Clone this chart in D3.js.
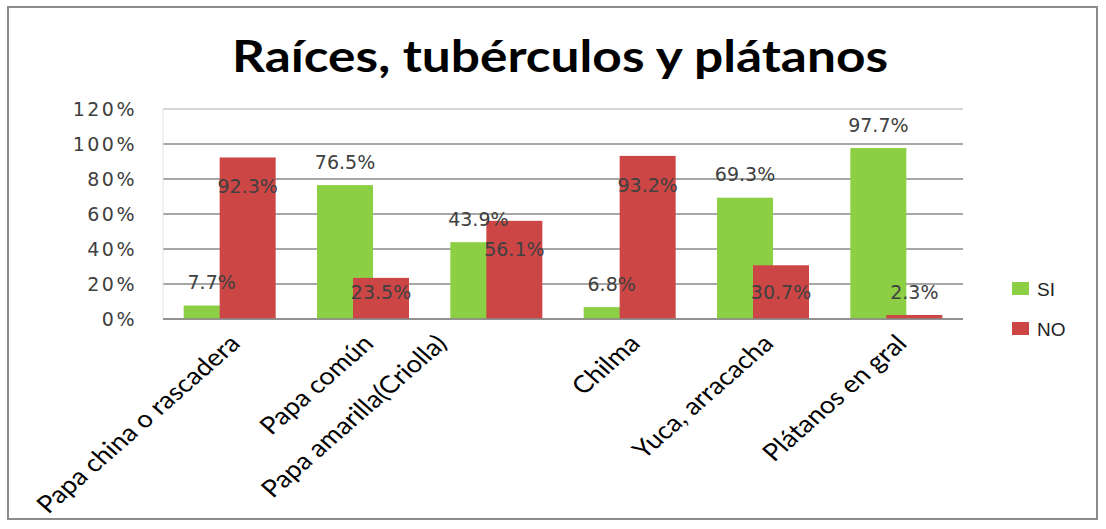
<!DOCTYPE html>
<html>
<head>
<meta charset="utf-8">
<script src="https://cdn.jsdelivr.net/npm/d3@7"></script>
<style>
  body { margin: 0; background: #fff; }
</style>
</head>
<body>
<div id="my_chart"></div>
<script>
// Data
var categories = ["Papa china o rascadera", "Papa común", "Papa amarilla(Criolla)", "Chilma", "Yuca, arracacha", "Plátanos en gral"];
var siValues = [7.7, 76.5, 43.9, 6.8, 69.3, 97.7];
var noValues = [92.3, 23.5, 56.1, 93.2, 30.7, 2.3];
var seriesNames = ["SI", "NO"];
var yTicks = [0, 20, 40, 60, 80, 100, 120];

var colors = { "SI": "#8ccf45", "NO": "#cc4646" };

var W = 1106, H = 529;
var margin = { top: 109, left: 163, right: W - 963, bottom: H - 319 };
var width = W - margin.left - margin.right,
    height = H - margin.top - margin.bottom;

// the picture is stretched sideways a bit, rotated labels follow that
var stretch = 1.14;

var svg = d3.select("#my_chart")
  .append("svg")
  .attr("width", W)
  .attr("height", H);

// outer frame
svg.append("rect")
  .attr("x", 8).attr("y", 7)
  .attr("width", 1089).attr("height", 512)
  .attr("fill", "#fff")
  .attr("stroke", "#8c8c8c")
  .attr("stroke-width", 2);

// title
svg.append("text")
  .attr("x", 560)
  .attr("y", 72)
  .attr("text-anchor", "middle")
  .attr("textLength", 656)
  .attr("lengthAdjust", "spacingAndGlyphs")
  .style("font", "bold 44px Lato")
  .style("fill", "#000")
  .text("Raíces, tubérculos y plátanos");

var g = svg.append("g")
  .attr("transform", "translate(" + margin.left + "," + margin.top + ")");

var x = d3.scaleBand()
  .domain(categories)
  .range([0, width]);

var y = d3.scaleLinear()
  .domain([0, 120])
  .range([height, 0]);

// gridlines + y labels
g.append("g")
  .selectAll("line")
  .data(yTicks)
  .enter()
  .append("line")
    .attr("x1", 0)
    .attr("x2", width)
    .attr("y1", function(d) { return y(d); })
    .attr("y2", function(d) { return y(d); })
    .attr("stroke", function(d) { return d === 120 ? "#c8c8c8" : "#8a8a8a"; })
    .attr("stroke-width", 1.5);

g.append("line")
  .attr("x1", 0).attr("x2", 0)
  .attr("y1", y(120)).attr("y2", y(0))
  .attr("stroke", "#e2e2e2");

g.append("g")
  .selectAll("text")
  .data(yTicks)
  .enter()
  .append("text")
    .attr("x", -26)
    .attr("y", function(d) { return y(d); })
    .attr("dy", "0.35em")
    .attr("text-anchor", "end")
    .style("font", "19px 'DejaVu Sans'")
    .style("letter-spacing", "2.5px")
    .style("fill", "#404040")
    .text(function(d) { return d + "%"; });

// bars: 56px wide, the NO bar overlaps the SI bar by 20px
var barW = 56, span = 92;

var rows = categories.map(function(c, i) {
  return { cat: c, SI: siValues[i], NO: noValues[i] };
});

var groups = g.selectAll(".cat")
  .data(rows)
  .enter()
  .append("g")
  .attr("class", "cat")
  .attr("transform", function(d) { return "translate(" + (x(d.cat) + x.bandwidth() / 2) + ",0)"; });

groups.append("rect")
  .attr("x", -span / 2)
  .attr("width", barW)
  .attr("y", function(d) { return y(d.SI); })
  .attr("height", function(d) { return height - y(d.SI); })
  .attr("fill", colors.SI);

groups.append("rect")
  .attr("x", span / 2 - barW)
  .attr("width", barW)
  .attr("y", function(d) { return y(d.NO); })
  .attr("height", function(d) { return height - y(d.NO); })
  .attr("fill", colors.NO);

// value labels
groups.append("text")
  .attr("x", -span / 2 + barW / 2)
  .attr("y", function(d) { return y(d.SI) - 23; })
  .attr("dy", "0.35em")
  .attr("text-anchor", "middle")
  .style("font", "19px 'DejaVu Sans'")
  .style("fill", "#404040")
  .text(function(d) { return d.SI.toFixed(1) + "%"; });

groups.append("text")
  .attr("x", span / 2 - barW / 2)
  .attr("y", function(d) { return Math.min(y(d.NO) + 29, height - 27); })
  .attr("dy", "0.35em")
  .attr("text-anchor", "middle")
  .style("font", "19px 'DejaVu Sans'")
  .style("fill", "#404040")
  .text(function(d) { return d.NO.toFixed(1) + "%"; });

// x axis line
g.append("line")
  .attr("x1", 0).attr("x2", width)
  .attr("y1", height).attr("y2", height)
  .attr("stroke", "#8a8a8a")
  .attr("stroke-width", 1.5);

// category labels, the long third one sits further left in the original
var labelShift = { "Papa amarilla(Criolla)": -60 };

g.append("g")
  .selectAll("text")
  .data(categories)
  .enter()
  .append("text")
    .attr("transform", function(d) {
      var cx = x(d) + x.bandwidth() / 2 + 12 + (labelShift[d] || 0);
      return "translate(" + cx + "," + (height + 26) + ") scale(" + stretch + ",1) rotate(-45)";
    })
    .attr("text-anchor", "end")
    .style("font", "24px Lato")
    .style("fill", "#000")
    .text(function(d) { return d; });

// legend
var legend = svg.append("g")
  .attr("transform", "translate(1012,282)");

var items = legend.selectAll(".legend-item")
  .data(seriesNames)
  .enter()
  .append("g")
  .attr("class", "legend-item")
  .attr("transform", function(d, i) { return "translate(0," + (i * 40) + ")"; });

items.append("rect")
  .attr("width", 17)
  .attr("height", 13)
  .attr("fill", function(d) { return colors[d]; });

items.append("text")
  .attr("x", 25)
  .attr("y", 7)
  .attr("dy", "0.35em")
  .style("font", "19px 'Liberation Sans'")
  .style("fill", "#222")
  .text(function(d) { return d; });
</script>
</body>
</html>
